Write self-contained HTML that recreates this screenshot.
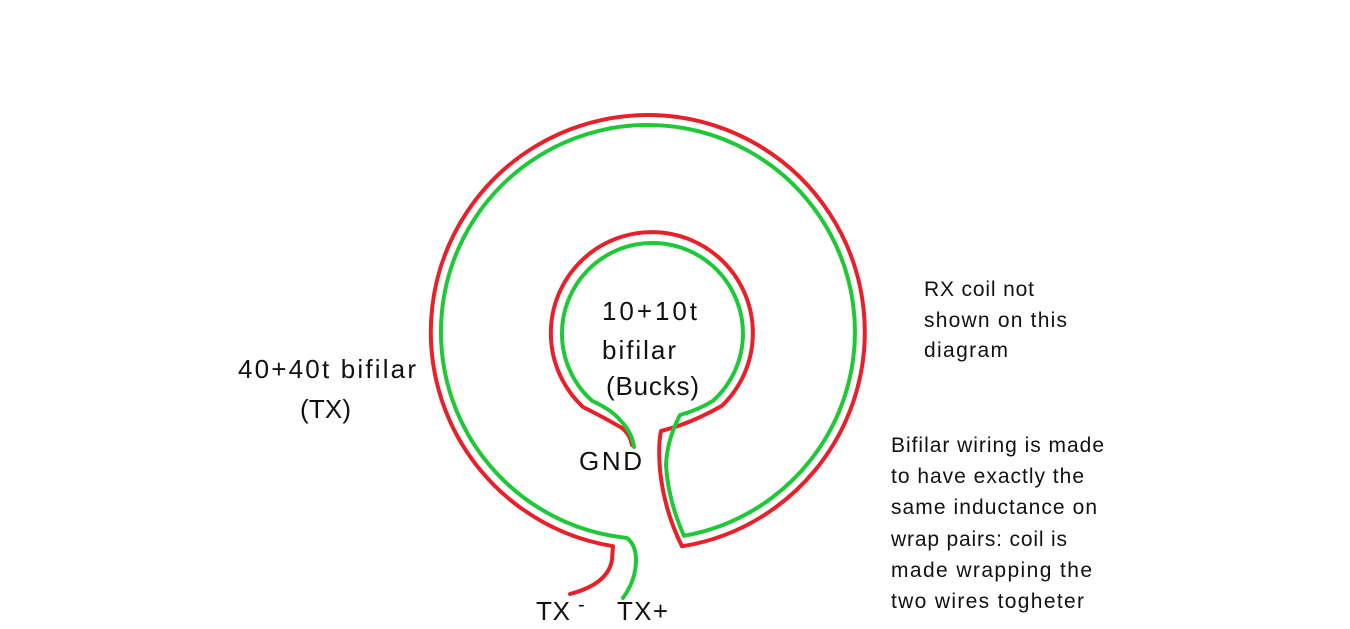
<!DOCTYPE html>
<html><head><style>
body{margin:0;background:#fff;}
svg{display:block}
text{font-family:"Liberation Sans",sans-serif;fill:#111}
</style></head><body>
<svg width="1350" height="629" viewBox="0 0 1350 629">
<g fill="none" stroke-width="4" stroke-linecap="round" stroke-linejoin="round">
<path stroke="#e8202a" d="M570,594 Q608,584 612,560 L613,546.2 A217,217 0 1 1 682,546.3 Q664,510 660,470 Q658,445 661,431 Q690,424 722,405.8 A101,101 0 1 0 583,407 Q605,418 622,428 Q630,434 632,445"/>
<path stroke="#1ec837" d="M623,598 Q636,580 636,560 Q636,545 627,538 L621,537.2 A207,207 0 1 1 684,535.8 Q668,500 666,465 Q667,440 680,415 Q698,410 712.5,401.2 A90.5,90.5 0 1 0 592,400.8 Q612,410 620,420 Q632,432 634,447"/>
</g>
<g font-size="26">
<text x="238" y="378" textLength="178">40+40t bifilar</text>
<text x="300" y="418" textLength="51">(TX)</text>
<text x="602" y="320" textLength="95">10+10t</text>
<text x="602" y="359" textLength="74">bifilar</text>
<text x="606" y="395" textLength="93">(Bucks)</text>
<text x="579" y="470" textLength="63">GND</text>
<text x="536" y="620" textLength="34">TX</text>
<text x="617" y="620" textLength="51">TX+</text>
</g>
<text x="578" y="611" font-size="20">-</text>
<g font-size="21">
<text x="924" y="296" textLength="110">RX coil not</text>
<text x="924" y="327" textLength="143">shown on this</text>
<text x="924" y="357" textLength="84">diagram</text>
<text x="891" y="452" textLength="213">Bifilar wiring is made</text>
<text x="891" y="483" textLength="193">to have exactly the</text>
<text x="891" y="514" textLength="206">same inductance on</text>
<text x="891" y="546" textLength="176">wrap pairs: coil is</text>
<text x="891" y="577" textLength="201">made wrapping the</text>
<text x="891" y="608" textLength="193">two wires togheter</text>
</g>
</svg>
</body></html>
